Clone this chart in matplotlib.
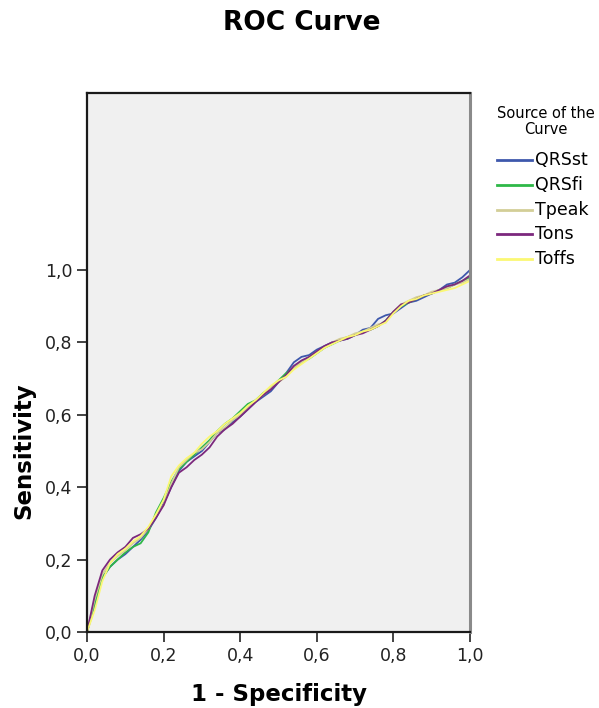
import matplotlib
matplotlib.use("Agg")
import matplotlib.pyplot as plt
from matplotlib.lines import Line2D

# ---- data ----
fpr = [0.00, 0.02, 0.04, 0.06, 0.08, 0.10, 0.12, 0.14, 0.16, 0.18,
       0.20, 0.22, 0.24, 0.26, 0.28, 0.30, 0.32, 0.34, 0.36, 0.38,
       0.40, 0.42, 0.44, 0.46, 0.48, 0.50, 0.52, 0.54, 0.56, 0.58,
       0.60, 0.62, 0.64, 0.66, 0.68, 0.70, 0.72, 0.74, 0.76, 0.78,
       0.80, 0.82, 0.84, 0.86, 0.88, 0.90, 0.92, 0.94, 0.96, 0.98,
       1.00, 1.00]

qrsst = [0.00, 0.07, 0.15, 0.18, 0.20, 0.215, 0.235, 0.255, 0.28, 0.315,
         0.355, 0.40, 0.445, 0.47, 0.485, 0.50, 0.525, 0.55, 0.56, 0.58,
         0.595, 0.615, 0.635, 0.65, 0.665, 0.69, 0.715, 0.745, 0.76, 0.765,
         0.78, 0.79, 0.80, 0.805, 0.81, 0.82, 0.835, 0.84, 0.865, 0.875,
         0.88, 0.895, 0.91, 0.915, 0.925, 0.935, 0.945, 0.96, 0.965, 0.98,
         1.00, 1.00]

qrsfi = [0.00, 0.08, 0.15, 0.18, 0.20, 0.22, 0.235, 0.245, 0.275, 0.33,
         0.37, 0.415, 0.45, 0.47, 0.49, 0.51, 0.53, 0.555, 0.575, 0.59,
         0.61, 0.63, 0.64, 0.66, 0.675, 0.695, 0.715, 0.73, 0.745, 0.755,
         0.77, 0.785, 0.795, 0.805, 0.815, 0.82, 0.83, 0.835, 0.845, 0.86,
         0.885, 0.90, 0.91, 0.92, 0.93, 0.935, 0.945, 0.95, 0.96, 0.97,
         0.98, 1.00]

tpeak = [0.00, 0.09, 0.16, 0.19, 0.21, 0.225, 0.245, 0.26, 0.285, 0.32,
         0.35, 0.41, 0.455, 0.475, 0.495, 0.505, 0.525, 0.55, 0.565, 0.585,
         0.60, 0.62, 0.64, 0.655, 0.675, 0.69, 0.705, 0.73, 0.745, 0.76,
         0.77, 0.785, 0.80, 0.81, 0.815, 0.825, 0.83, 0.84, 0.85, 0.855,
         0.885, 0.905, 0.915, 0.925, 0.93, 0.94, 0.945, 0.95, 0.96, 0.965,
         0.975, 1.00]

tons = [0.00, 0.10, 0.17, 0.20, 0.22, 0.235, 0.26, 0.27, 0.285, 0.315,
        0.35, 0.40, 0.44, 0.455, 0.475, 0.49, 0.51, 0.54, 0.56, 0.575,
        0.595, 0.615, 0.635, 0.655, 0.67, 0.69, 0.71, 0.735, 0.75, 0.76,
        0.775, 0.79, 0.80, 0.805, 0.81, 0.82, 0.825, 0.835, 0.845, 0.86,
        0.885, 0.905, 0.91, 0.92, 0.93, 0.935, 0.945, 0.955, 0.96, 0.97,
        0.985, 1.00]

toffs = [0.00, 0.06, 0.14, 0.19, 0.215, 0.23, 0.25, 0.265, 0.29, 0.325,
         0.365, 0.43, 0.46, 0.48, 0.495, 0.52, 0.54, 0.555, 0.575, 0.59,
         0.605, 0.625, 0.64, 0.66, 0.68, 0.695, 0.705, 0.725, 0.74, 0.755,
         0.77, 0.785, 0.795, 0.805, 0.815, 0.82, 0.83, 0.835, 0.845, 0.855,
         0.88, 0.90, 0.915, 0.92, 0.93, 0.935, 0.94, 0.945, 0.95, 0.96,
         0.97, 1.00]

series_names = ["QRSst", "QRSfi", "Tpeak", "Tons", "Toffs"]
series_values = [qrsst, qrsfi, tpeak, tons, toffs]
colors = ["#3E58AC", "#2EB848", "#D3CE97", "#7C287D", "#FBF873"]

tick_values = [0.0, 0.2, 0.4, 0.6, 0.8, 1.0]
tick_labels = ["0,0", "0,2", "0,4", "0,6", "0,8", "1,0"]

# ---- figure ----
W, H = 599, 708
fig = plt.figure(figsize=(W / 100, H / 100), dpi=100)
plt.rcParams['font.family'] = ['DejaVu Sans']

ax_left, ax_right, ax_top, ax_bottom = 87, 470, 93, 632
ax = fig.add_axes([ax_left / W, 1 - ax_bottom / H,
                   (ax_right - ax_left) / W, (ax_bottom - ax_top) / H])
ax.set_facecolor("#F0F0F0")

for name, vals, c in zip(series_names, series_values, colors):
    ax.plot(fpr, vals, color=c, lw=1.3, solid_joinstyle="miter", label=name)

ax.set_xlim(0, 1)
ax.set_ylim(0, (ax_bottom - ax_top) / 362.0)
ax.set_xticks(tick_values)
ax.set_xticklabels(tick_labels)
ax.set_yticks(tick_values)
ax.set_yticklabels(tick_labels)
ax.tick_params(direction="out", length=7, width=1.2, pad=3.5,
               labelsize=12.5, colors="#222222", top=False, right=False)

for side in ["left", "bottom", "top"]:
    ax.spines[side].set_color("#1a1a1a")
    ax.spines[side].set_linewidth(1.6)
ax.spines["right"].set_color("#8a8a8a")
ax.spines["right"].set_linewidth(2.2)

# title and axis labels
fig.text(302 / W, 1 - 23 / H, "ROC Curve", ha="center", va="center",
         fontsize=19, fontweight="bold")
fig.text(279 / W, 1 - 694 / H, "1 - Specificity", ha="center", va="center",
         fontsize=16.5, fontweight="bold")
fig.text(24 / W, 1 - 451 / H, "Sensitivity", ha="center", va="center",
         rotation=90, fontsize=16.5, fontweight="bold")

# legend (manual, SPSS style)
fig.text(546 / W, 1 - 113 / H, "Source of the", ha="center", va="center",
         fontsize=10.5)
fig.text(546 / W, 1 - 129 / H, "Curve", ha="center", va="center",
         fontsize=10.5)
row_y = [160, 185, 210, 234, 259]
for name, c, ry in zip(series_names, colors, row_y):
    fig.add_artist(Line2D([497 / W, 532 / W], [1 - ry / H, 1 - ry / H],
                          transform=fig.transFigure, color=c, lw=2.0))
    fig.text(535 / W, 1 - ry / H, name, ha="left", va="center",
             fontsize=12.5)

fig.savefig("out.png", dpi=100)
